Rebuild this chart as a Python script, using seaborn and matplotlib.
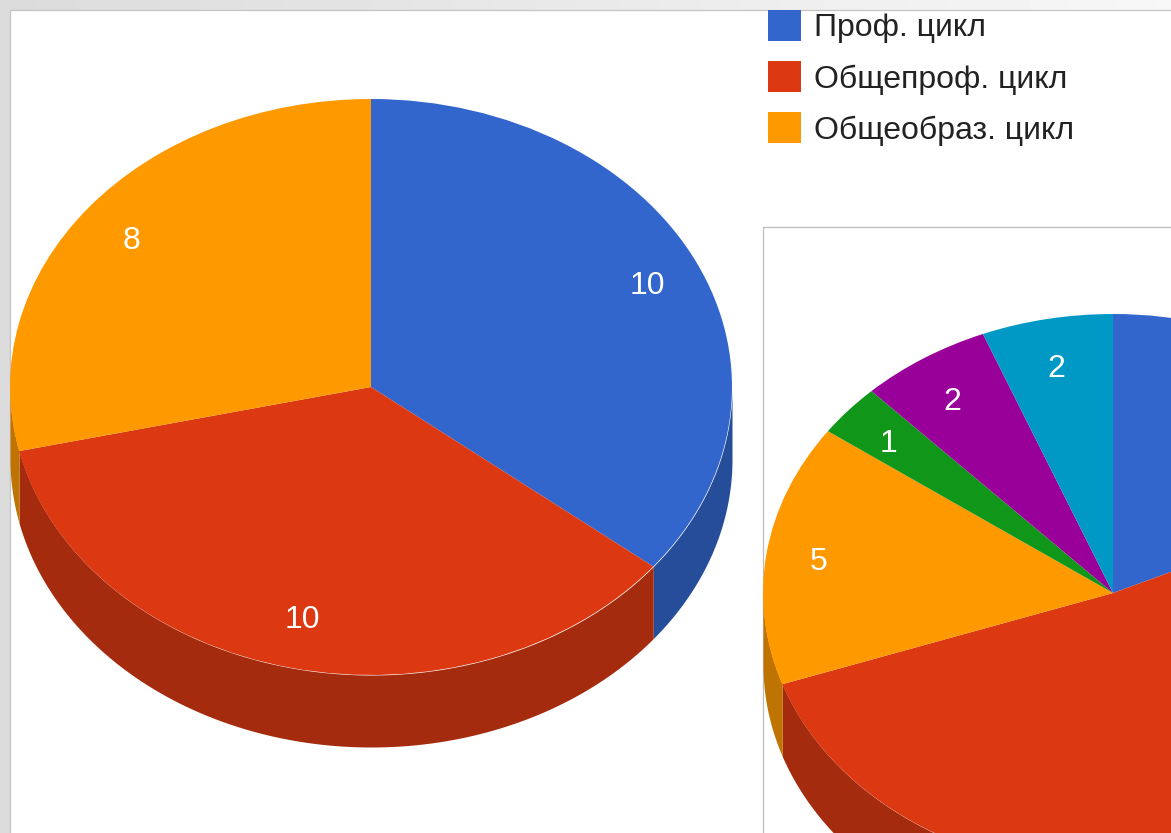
import numpy as np
import matplotlib
matplotlib.use("Agg")
import matplotlib.pyplot as plt
import seaborn as sns
from matplotlib.colors import to_rgb
from matplotlib.patches import Rectangle

# values
left_values = [10, 10, 8]
left_colors = ["#3366CC", "#DC3912", "#FF9900"]
legend_labels = ["Проф. цикл", "Общепроф. цикл", "Общеобраз. цикл"]

# the first two slices of the right pie run off the crop, so their sizes are estimated
right_values = [6, 17, 5, 1, 2, 2]
right_colors = ["#3366CC", "#DC3912", "#FF9900", "#109618", "#990099", "#0099C6"]

W, H = 1171, 833
FONT_SIZE = 23

sns.set_theme(style="white")
plt.rcParams["font.family"] = ["Liberation Sans", "DejaVu Sans"]


def pixel_axes(fig, left, top, width, height):
    return fig.add_axes([left / W, 1 - (top + height) / H, width / W, height / H])


def draw_pie3d(fig, values, colors, cx, cy, rx, ry, depth, hide_labels=0):
    """Flattened pie with a darker wall below it, cx/cy/rx/ry in figure pixels."""
    pad = 1.03
    drop = depth / ry
    ax = pixel_axes(fig, cx - rx * pad, cy - ry * pad, 2 * rx * pad, ry * (2 * pad + drop))
    total = sum(values)
    wedges, _, autotexts = ax.pie(
        values, colors=colors, startangle=90, counterclock=False, radius=1,
        autopct=lambda p: f"{p * total / 100:.0f}", pctdistance=0.84,
        wedgeprops={"linewidth": 0},
        textprops={"color": "white", "fontsize": FONT_SIZE},
    )
    for wedge, color in zip(wedges, colors):
        theta = np.radians(np.linspace(wedge.theta1, wedge.theta2, 800))
        x, y = np.cos(theta), np.sin(theta)
        keep = y <= 0
        if keep.any():
            dark = np.array(to_rgb(color)) * 0.75
            ax.fill_between(x[keep], y[keep] - drop, y[keep], color=dark, lw=0, zorder=0)
    # labels sit a bit wider and flatter than the plain pie layout
    for text in autotexts:
        px, py = text.get_position()
        text.set_position((px * 1.01, py * 0.979 - 0.006))
    # these labels fall outside the crop
    for text in autotexts[:hide_labels]:
        text.remove()
    ax.set_aspect("auto")
    ax.set_xlim(-pad, pad)
    ax.set_ylim(-pad - drop, pad)
    ax.patch.set_alpha(0)
    return wedges


fig = plt.figure(figsize=(W / 100, H / 100), dpi=100)

# page background and the two chart panels, in pixels
bg = fig.add_axes([0, 0, 1, 1])
bg.imshow(np.linspace(0.86, 0.97, 256).reshape(1, -1), cmap="gray", vmin=0, vmax=1,
          extent=(0, W, H, 0), aspect="auto")
bg.add_patch(Rectangle((9.5, 9.5), W + 20, H + 20, fc="white", ec="#c4c4c4", lw=0.9))
bg.add_patch(Rectangle((762.5, 226.5), W + 20, H + 20, fc="white", ec="#bcbcbc", lw=0.9))
bg.set_xlim(0, W)
bg.set_ylim(H, 0)
bg.axis("off")

left_wedges = draw_pie3d(fig, left_values, left_colors, 371, 387, 361, 288, 72)
draw_pie3d(fig, right_values, right_colors, 1113, 593, 350, 279, 72, hide_labels=2)

legend = bg.legend(
    left_wedges, legend_labels, loc="upper left", bbox_to_anchor=(768, 10),
    bbox_transform=bg.transData, frameon=False, fontsize=FONT_SIZE, borderpad=0,
    borderaxespad=0, handlelength=1.03, handleheight=1.13, handletextpad=0.41,
    labelspacing=0.55, labelcolor="#222222",
)

fig.savefig("out.png", dpi=100)
